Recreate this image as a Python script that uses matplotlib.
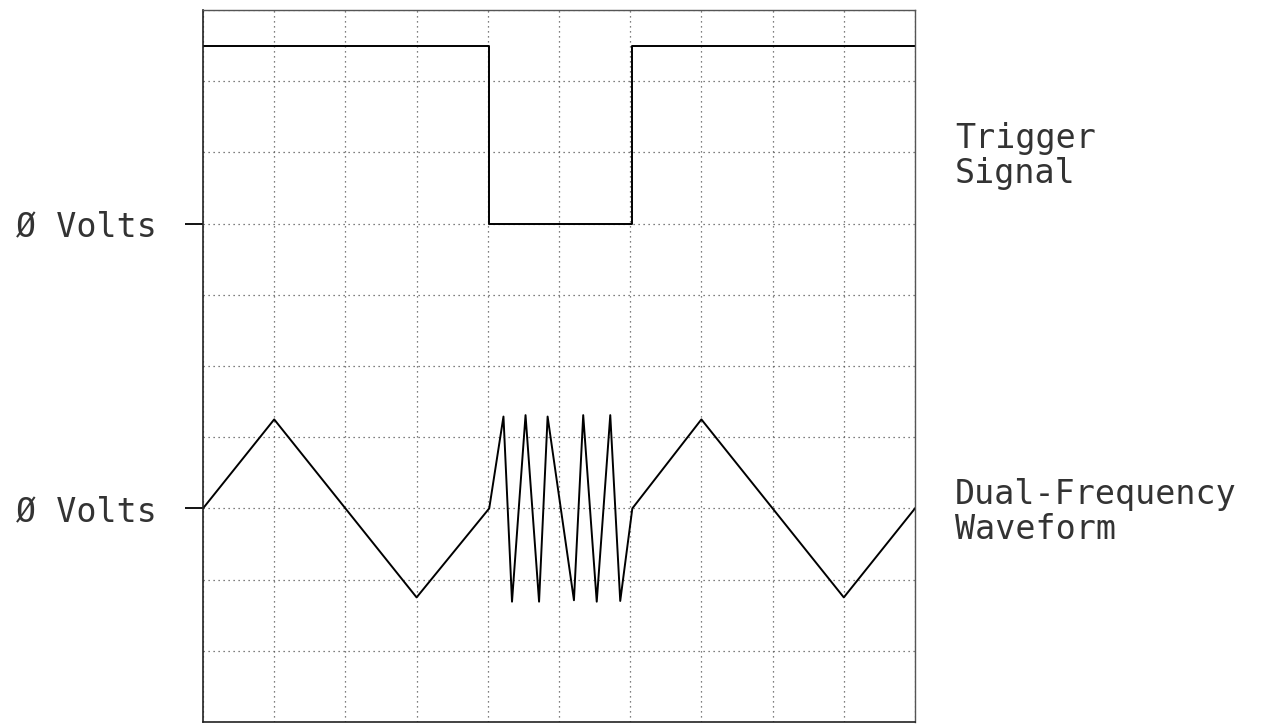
import matplotlib
matplotlib.use("Agg")
import matplotlib.pyplot as plt

# time axis and voltages in screen divisions
trig_t = [0.0, 4.02, 4.02, 6.03, 6.03, 10.0]
trig_v = [2.5, 2.5, 0.0, 0.0, 2.5, 2.5]

wave_t = [0.0, 1.0, 3.0, 4.02,
          4.22, 4.34, 4.53, 4.72, 4.84, 5.21, 5.34, 5.53, 5.72, 5.86,
          6.03, 7.0, 9.0, 10.0]
wave_v = [0.0, 1.25, -1.25, 0.0,
          1.29, -1.31, 1.31, -1.31, 1.29, -1.29, 1.31, -1.31, 1.31, -1.30,
          0.0, 1.25, -1.25, 0.0]

trig_zero = 7.0
wave_zero = 3.0
zero_labels = ["Ø Volts", "Ø Volts"]

MONO = "DejaVu Sans Mono"

fig = plt.figure(figsize=(12.65, 7.27), dpi=100)
ax = fig.add_axes([203 / 1265, 5 / 727, 712 / 1265, 712 / 727])

ax.plot(trig_t, [v + trig_zero for v in trig_v], color="black", lw=1.4)
ax.plot(wave_t, [v + wave_zero for v in wave_v], color="black", lw=1.4)

ax.set_xlim(0, 10)
ax.set_ylim(0, 10)

ax.set_xticks(range(11))
ax.set_xticklabels([])
ax.set_yticks([wave_zero, trig_zero])
ax.set_yticklabels(zero_labels, fontfamily=MONO, fontsize=24, color="#333333")
ax.set_yticks(range(11), minor=True)
ax.tick_params(axis="x", length=0)
ax.tick_params(axis="y", which="major", length=13, width=1.3, pad=20,
               direction="out", color="black")
ax.tick_params(axis="y", which="minor", length=0)

ax.grid(True, which="both", color="#555555", lw=0.9, linestyle=(0, (1, 3)))

for side in ("left", "bottom"):
    ax.spines[side].set_linewidth(1.2)
    ax.spines[side].set_color("#222222")
for side in ("top", "right"):
    ax.spines[side].set_linewidth(1.0)
    ax.spines[side].set_linestyle((0, (1, 1)))
    ax.spines[side].set_color("#555555")

fig.text(955 / 1265, 1 - 156 / 727, "Trigger\nSignal", fontfamily=MONO,
         fontsize=24, color="#333333", va="center", ha="left", linespacing=1.05)
fig.text(955 / 1265, 1 - 512 / 727, "Dual-Frequency\nWaveform", fontfamily=MONO,
         fontsize=24, color="#333333", va="center", ha="left", linespacing=1.05)

fig.savefig("out.png", dpi=100)
